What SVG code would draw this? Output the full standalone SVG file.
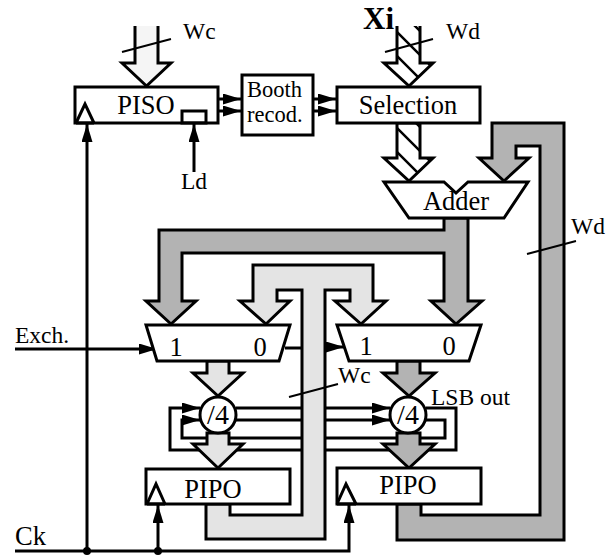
<svg xmlns="http://www.w3.org/2000/svg" width="616" height="556" viewBox="0 0 616 556">
<style>
text{font-family:"Liberation Serif","Times New Roman",serif;font-size:23.5px;fill:#000}
.m{text-anchor:middle}
.b{font-size:26.500px}
.r{font-size:22.500px}
.s{stroke:#000;stroke-width:3;fill:#fff;stroke-linejoin:miter}
.w{stroke:#000;stroke-width:3;fill:none}
.t{stroke:#000;stroke-width:2;fill:none}
.g{stroke:#000;stroke-width:3;fill:#b3b3b3}
.l{stroke:#000;stroke-width:3;fill:#e4e4e4}
.v{fill:#f5f5f5}
</style>
<defs>
<pattern id="hatch" patternUnits="userSpaceOnUse" width="24" height="24">
<rect width="24" height="24" fill="#fff"/>
<path d="M-2 17L7 26M3 -2L26 21" stroke="#000" stroke-width="2.5" fill="none"/>
</pattern>
<marker id="ah" viewBox="0 0 18 11" refX="18" refY="5.500" markerWidth="18" markerHeight="11" markerUnits="userSpaceOnUse" orient="auto"><path d="M0 0L18 5.500L0 11Z" fill="#000"/></marker>
</defs>
<g id="connectors">
<polygon class="l" points="206,504 206,539 325,539 325,290 350,290 350,301 335,301 361,324 386,301 373,301 373,265 253,265 253,301 240,301 266,324 290,301 277,301 277,290 302,290 302,515 230,515 230,504"/>
<polygon class="g" points="397,504 397,540 564,540 564,123 492,123 492,158 479,158 504,181 529,158 516,158 516,146 540,146 540,515 421,515 421,504"/>
<polygon class="g" points="444,218 444,230 159,230 159,301 146,301 171,324 196,301 182,301 182,253 444,253 444,301 431,301 456,324 482,301 468,301 468,218"/>
<g id="wc-in"><polygon points="135,26 158,26 158,63 171,63 146.500,86 122,63 135,63" class="v"/><path class="w" d="M135 26V63H122L146.500 86L171 63H158V26"/></g>
<g id="wd-in"><polygon points="397,26 420,26 420,63 433,63 409,86 384,63 397,63" fill="url(#hatch)"/><path class="w" d="M397 26V63H384L409 86L433 63H420V26"/></g>
<polygon points="397,123 420,123 420,158 433,158 409,181 384,158 397,158" fill="url(#hatch)" stroke="#000" stroke-width="3"/>
<path class="t" d="M122 52L171 39M385 52L433 39M527 254L576 241M289 397L338 384"/>
<path class="w" d="M15 349H157" marker-end="url(#ah)"/>
<path class="w" d="M285 348H302"/>
<path class="w" d="M325 347H344" marker-end="url(#ah)"/>
<path class="w" d="M218 99H241" marker-end="url(#ah)"/>
<path class="w" d="M218 111H241" marker-end="url(#ah)"/>
<path class="w" d="M313 99H336" marker-end="url(#ah)"/>
<path class="w" d="M313 111H336" marker-end="url(#ah)"/>
<path class="w" d="M194 172V124" marker-end="url(#ah)"/>
<path class="w" d="M87 551V124" marker-end="url(#ah)"/>
<path class="w" d="M158 551V505" marker-end="url(#ah)"/>
<path class="w" d="M15 551H349V505" marker-end="url(#ah)"/>
<circle cx="87" cy="551" r="4"/>
<circle cx="158" cy="551" r="4"/>
<path class="w" d="M302 408H236M302 420H236M302 438H182V420H200" marker-end="url(#ah)"/>
<path class="w" d="M302 450H170V408H200" marker-end="url(#ah)"/>
<path class="w" d="M325 408H390" marker-end="url(#ah)"/>
<path class="w" d="M325 420H390" marker-end="url(#ah)"/>
<path class="w" d="M325 438H445V420H426M325 450H456V408H426"/>
<polygon class="l" points="207,361 229,361 229,373 243,373 218,396 193,373 207,373"/>
<polygon class="l" points="207,433 229,433 229,444 243,444 218,468 193,444 207,444"/>
<polygon class="g" points="397,361 420,361 420,373 435,373 409,396 383,373 397,373"/>
<polygon class="g" points="397,433 420,433 420,444 435,444 409,468 383,444 397,444"/>
</g>
<g id="piso"><rect class="s" x="75" y="87" width="143" height="36"/><path class="w" d="M76 123L85 104L94 123M76 123H94"/><rect class="w" x="182" y="111" width="24" height="12"/><text class="m b" x="146" y="114">PISO</text></g>
<g id="booth"><rect class="s" x="242" y="75" width="71" height="60"/><text class="r" x="247" y="97">Booth</text><text class="r" x="247" y="122">recod.</text></g>
<g id="selection"><rect class="s" x="337" y="87" width="143" height="36"/><text class="m b" x="408" y="114">Selection</text></g>
<g id="adder"><polygon class="s" points="384,182 444,182 456,193 468,182 528,182 504,218 409,218"/><text class="m b" x="456" y="210">Adder</text></g>
<g id="mux-left"><polygon class="s" points="146,325 290,325 279,361 157,361"/><text class="m b" x="176" y="356">1</text><text class="m b" x="260" y="356">0</text></g>
<g id="mux-right"><polygon class="s" points="337,325 481,325 469,361 349,361"/><text class="m b" x="366" y="355">1</text><text class="m b" x="449" y="355">0</text></g>
<g id="div-left"><circle class="s" cx="218" cy="415" r="18"/><text class="m" x="218" y="424" style="font-size:28px">/4</text></g>
<g id="div-right"><circle class="s" cx="408" cy="415" r="18"/><text class="m" x="408" y="424" style="font-size:28px">/4</text></g>
<g id="pipo-left"><rect class="s" x="146" y="469" width="144" height="35"/><path class="w" d="M147 504L156 484L165 504M147 504H165"/><text class="m b" x="213" y="498">PIPO</text></g>
<g id="pipo-right"><rect class="s" x="337" y="468" width="144" height="36"/><path class="w" d="M337 504L346 484L356 504M337 504H356"/><text class="m b" x="408" y="494">PIPO</text></g>
<g id="labels">
<text x="183" y="39">Wc</text>
<text x="363" y="29" style="font-size:31px;font-weight:bold">Xi</text>
<text x="446" y="39">Wd</text>
<text x="571" y="234">Wd</text>
<text x="181" y="189">Ld</text>
<text x="15" y="343">Exch.</text>
<text x="15" y="545" class="b">Ck</text>
<text x="338" y="383">Wc</text>
<text x="431" y="405">LSB out</text>
</g>
</svg>
